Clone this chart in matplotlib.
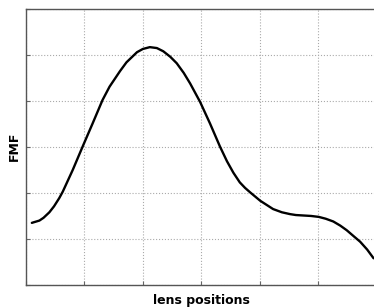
import matplotlib
matplotlib.use("Agg")
import matplotlib.pyplot as plt

# positions de la lentille (unites de grille) et valeurs FMF
positions = [0.10, 0.23, 0.30, 0.40, 0.48, 0.57, 0.63, 0.80, 0.97, 1.14,
             1.31, 1.43, 1.61, 1.72, 1.90, 2.00, 2.12, 2.24, 2.35, 2.47,
             2.58, 2.70, 2.81, 2.98, 3.15, 3.32, 3.44, 3.55, 3.66, 3.75,
             3.84, 4.01, 4.23, 4.38, 4.52, 4.62, 4.75, 4.88, 5.01, 5.13,
             5.26, 5.38, 5.49, 5.60, 5.72, 5.84, 5.95]
fmf = [1.34, 1.39, 1.45, 1.57, 1.70, 1.88, 2.02, 2.49, 3.00, 3.50,
       4.01, 4.30, 4.64, 4.83, 5.05, 5.12, 5.16, 5.14, 5.07, 4.95,
       4.81, 4.60, 4.37, 3.97, 3.50, 3.00, 2.68, 2.43, 2.22, 2.10,
       2.00, 1.82, 1.64, 1.57, 1.53, 1.51, 1.50, 1.49, 1.47, 1.43,
       1.37, 1.28, 1.18, 1.06, 0.93, 0.76, 0.57]
graduations = [0, 1, 2, 3, 4, 5, 6]

fig = plt.figure(figsize=(3.74, 3.07), dpi=100)
ax = fig.add_axes([26 / 374, 22.5 / 307, 350.5 / 374, 276 / 307])

ax.plot(positions, fmf, color="black", linewidth=1.7,
        solid_joinstyle="round", solid_capstyle="round")

ax.set_xlim(0, 6)
ax.set_ylim(0, 6)
ax.set_xticks(graduations)
ax.set_yticks(graduations)
ax.set_xticklabels([])
ax.set_yticklabels([])
ax.tick_params(direction="in", length=3, width=0.8, color="#666666")
ax.grid(True, linestyle=":", color="#aaaaaa", linewidth=0.8)
for s in ax.spines.values():
    s.set_color("#555555")
    s.set_linewidth(1.0)

ax.set_xlabel("lens positions", fontsize=9, fontweight="bold", labelpad=3)
ax.set_ylabel("FMF", fontsize=9, fontweight="bold", labelpad=0)

fig.savefig("out.png", dpi=100)
